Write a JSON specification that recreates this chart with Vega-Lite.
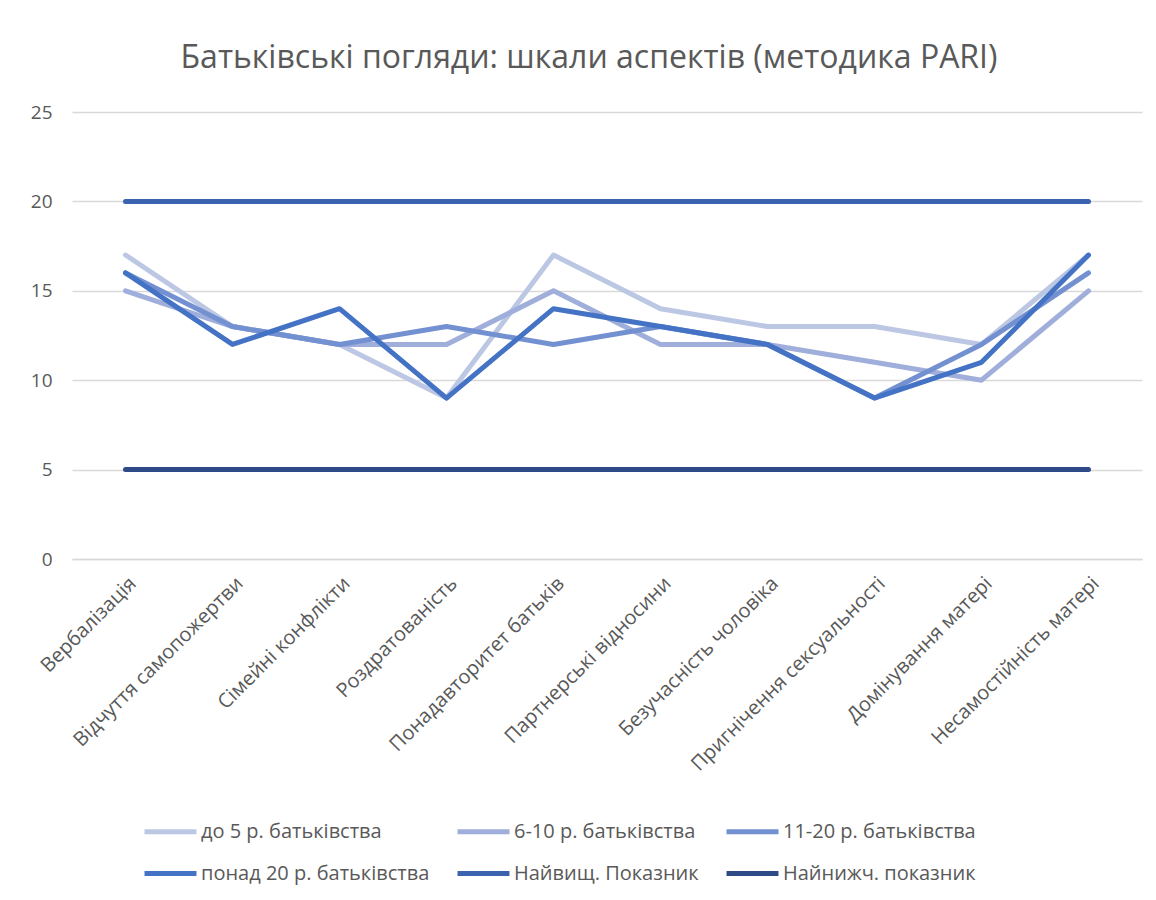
{
  "$schema": "https://vega.github.io/schema/vega-lite/v6.json",
  "autosize": "none",
  "width": 1070,
  "height": 447,
  "padding": {"left": 72, "top": 112, "right": 14, "bottom": 341},
  "background": "white",
  "title": {
    "text": "Батьківські погляди: шкали аспектів (методика PARI)",
    "fontSize": 32,
    "font": "Open Sans",
    "fontWeight": "normal",
    "color": "#595959",
    "anchor": "middle",
    "dx": -18,
    "offset": 28
  },
  "config": {
    "font": "Open Sans",
    "view": {"stroke": null}
  },
  "data": {
    "values": [
      {"series": "до 5 р. батьківства", "aspect": "Вербалізація", "value": 17},
      {"series": "до 5 р. батьківства", "aspect": "Відчуття самопожертви", "value": 13},
      {"series": "до 5 р. батьківства", "aspect": "Сімейні конфлікти", "value": 12},
      {"series": "до 5 р. батьківства", "aspect": "Роздратованість", "value": 9},
      {"series": "до 5 р. батьківства", "aspect": "Понадавторитет батьків", "value": 17},
      {"series": "до 5 р. батьківства", "aspect": "Партнерські відносини", "value": 14},
      {"series": "до 5 р. батьківства", "aspect": "Безучасність чоловіка", "value": 13},
      {"series": "до 5 р. батьківства", "aspect": "Пригнічення сексуальності", "value": 13},
      {"series": "до 5 р. батьківства", "aspect": "Домінування матері", "value": 12},
      {"series": "до 5 р. батьківства", "aspect": "Несамостійність матері", "value": 17},
      {"series": "6-10 р. батьківства", "aspect": "Вербалізація", "value": 15},
      {"series": "6-10 р. батьківства", "aspect": "Відчуття самопожертви", "value": 13},
      {"series": "6-10 р. батьківства", "aspect": "Сімейні конфлікти", "value": 12},
      {"series": "6-10 р. батьківства", "aspect": "Роздратованість", "value": 12},
      {"series": "6-10 р. батьківства", "aspect": "Понадавторитет батьків", "value": 15},
      {"series": "6-10 р. батьківства", "aspect": "Партнерські відносини", "value": 12},
      {"series": "6-10 р. батьківства", "aspect": "Безучасність чоловіка", "value": 12},
      {"series": "6-10 р. батьківства", "aspect": "Пригнічення сексуальності", "value": 11},
      {"series": "6-10 р. батьківства", "aspect": "Домінування матері", "value": 10},
      {"series": "6-10 р. батьківства", "aspect": "Несамостійність матері", "value": 15},
      {"series": "11-20 р. батьківства", "aspect": "Вербалізація", "value": 16},
      {"series": "11-20 р. батьківства", "aspect": "Відчуття самопожертви", "value": 13},
      {"series": "11-20 р. батьківства", "aspect": "Сімейні конфлікти", "value": 12},
      {"series": "11-20 р. батьківства", "aspect": "Роздратованість", "value": 13},
      {"series": "11-20 р. батьківства", "aspect": "Понадавторитет батьків", "value": 12},
      {"series": "11-20 р. батьківства", "aspect": "Партнерські відносини", "value": 13},
      {"series": "11-20 р. батьківства", "aspect": "Безучасність чоловіка", "value": 12},
      {"series": "11-20 р. батьківства", "aspect": "Пригнічення сексуальності", "value": 9},
      {"series": "11-20 р. батьківства", "aspect": "Домінування матері", "value": 12},
      {"series": "11-20 р. батьківства", "aspect": "Несамостійність матері", "value": 16},
      {"series": "понад 20 р. батьківства", "aspect": "Вербалізація", "value": 16},
      {"series": "понад 20 р. батьківства", "aspect": "Відчуття самопожертви", "value": 12},
      {"series": "понад 20 р. батьківства", "aspect": "Сімейні конфлікти", "value": 14},
      {"series": "понад 20 р. батьківства", "aspect": "Роздратованість", "value": 9},
      {"series": "понад 20 р. батьківства", "aspect": "Понадавторитет батьків", "value": 14},
      {"series": "понад 20 р. батьківства", "aspect": "Партнерські відносини", "value": 13},
      {"series": "понад 20 р. батьківства", "aspect": "Безучасність чоловіка", "value": 12},
      {"series": "понад 20 р. батьківства", "aspect": "Пригнічення сексуальності", "value": 9},
      {"series": "понад 20 р. батьківства", "aspect": "Домінування матері", "value": 11},
      {"series": "понад 20 р. батьківства", "aspect": "Несамостійність матері", "value": 17},
      {"series": "Найвищ. Показник", "aspect": "Вербалізація", "value": 20},
      {"series": "Найвищ. Показник", "aspect": "Відчуття самопожертви", "value": 20},
      {"series": "Найвищ. Показник", "aspect": "Сімейні конфлікти", "value": 20},
      {"series": "Найвищ. Показник", "aspect": "Роздратованість", "value": 20},
      {"series": "Найвищ. Показник", "aspect": "Понадавторитет батьків", "value": 20},
      {"series": "Найвищ. Показник", "aspect": "Партнерські відносини", "value": 20},
      {"series": "Найвищ. Показник", "aspect": "Безучасність чоловіка", "value": 20},
      {"series": "Найвищ. Показник", "aspect": "Пригнічення сексуальності", "value": 20},
      {"series": "Найвищ. Показник", "aspect": "Домінування матері", "value": 20},
      {"series": "Найвищ. Показник", "aspect": "Несамостійність матері", "value": 20},
      {"series": "Найнижч. показник", "aspect": "Вербалізація", "value": 5},
      {"series": "Найнижч. показник", "aspect": "Відчуття самопожертви", "value": 5},
      {"series": "Найнижч. показник", "aspect": "Сімейні конфлікти", "value": 5},
      {"series": "Найнижч. показник", "aspect": "Роздратованість", "value": 5},
      {"series": "Найнижч. показник", "aspect": "Понадавторитет батьків", "value": 5},
      {"series": "Найнижч. показник", "aspect": "Партнерські відносини", "value": 5},
      {"series": "Найнижч. показник", "aspect": "Безучасність чоловіка", "value": 5},
      {"series": "Найнижч. показник", "aspect": "Пригнічення сексуальності", "value": 5},
      {"series": "Найнижч. показник", "aspect": "Домінування матері", "value": 5},
      {"series": "Найнижч. показник", "aspect": "Несамостійність матері", "value": 5}
    ]
  },
  "mark": {"type": "line", "strokeWidth": 5, "strokeCap": "round", "strokeJoin": "round"},
  "encoding": {
    "x": {
      "field": "aspect",
      "type": "nominal",
      "sort": null,
      "scale": {"type": "point", "padding": 0.5},
      "axis": {
        "title": null,
        "labelAngle": -45,
        "labelFontSize": 20,
        "labelColor": "#595959",
        "labelPadding": 14,
        "ticks": false,
        "domain": true,
        "domainColor": "#D9D9D9",
        "domainWidth": 1.5,
        "labelLimit": 400
      }
    },
    "y": {
      "field": "value",
      "type": "quantitative",
      "scale": {"domain": [0, 25]},
      "axis": {
        "title": null,
        "values": [0, 5, 10, 15, 20, 25],
        "labelFontSize": 19,
        "labelColor": "#595959",
        "labelPadding": 20,
        "ticks": false,
        "domain": false,
        "gridColor": "#D9D9D9",
        "gridWidth": 1.5
      }
    },
    "color": {
      "field": "series",
      "type": "nominal",
      "sort": null,
      "scale": {
        "domain": ["до 5 р. батьківства", "6-10 р. батьківства", "11-20 р. батьківства", "понад 20 р. батьківства", "Найвищ. Показник", "Найнижч. показник"],
        "range": ["#BCC7E4", "#9FAEDA", "#7390D0", "#4472C4", "#3B62AE", "#2E4B87"]
      },
      "legend": {
        "title": null,
        "orient": "none",
        "legendX": 70,
        "legendY": 691,
        "direction": "horizontal",
        "columns": 3,
        "columnPadding": 17,
        "rowPadding": 3,
        "symbolType": "stroke",
        "symbolSize": 2700,
        "symbolStrokeWidth": 5,
        "labelFontSize": 20,
        "labelColor": "#595959",
        "labelOffset": 2,
        "labelLimit": 400
      }
    }
  }
}
